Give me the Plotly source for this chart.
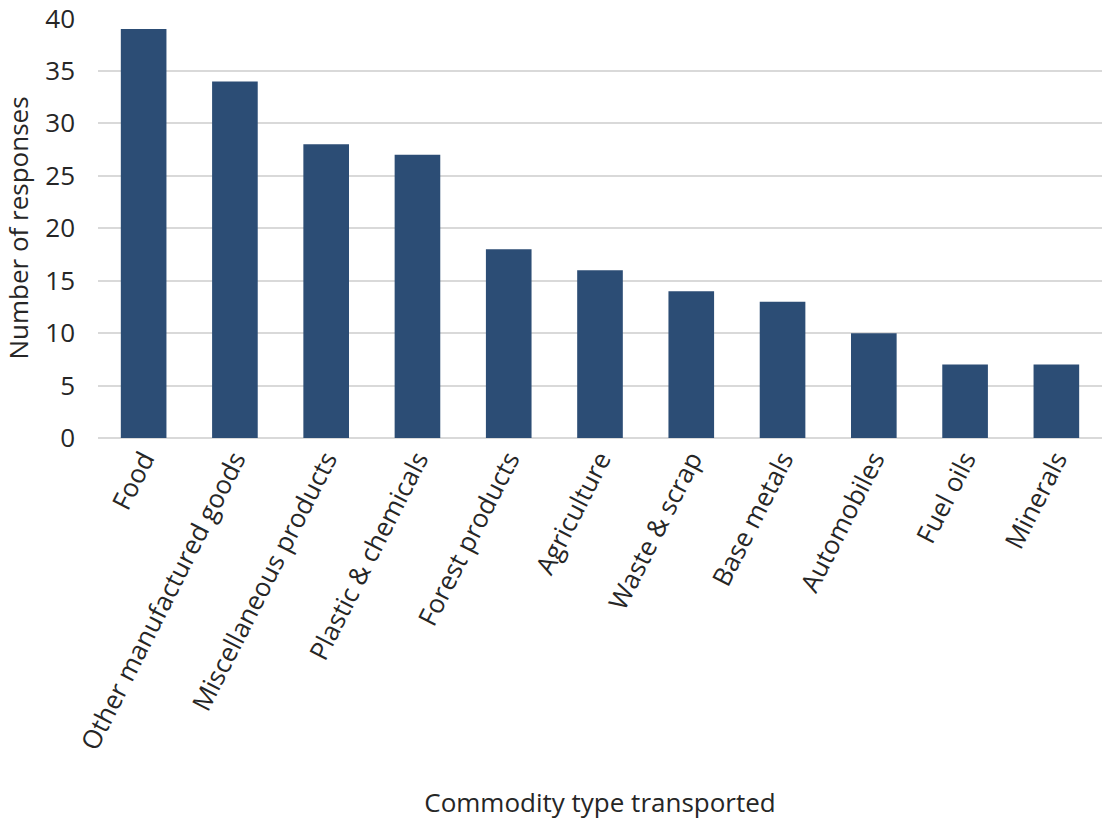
import plotly.graph_objects as go

categories = [
    "Food", "Other manufactured goods", "Miscellaneous products",
    "Plastic & chemicals", "Forest products", "Agriculture",
    "Waste & scrap", "Base metals", "Automobiles", "Fuel oils", "Minerals",
]
responses = [39, 34, 28, 27, 18, 16, 14, 13, 10, 7, 7]
y_ticks = [0, 5, 10, 15, 20, 25, 30, 35, 40]

font_family = "Open Sans"
text_color = "#262626"
font_size = 26

fig = go.Figure(
    go.Bar(
        x=categories,
        y=responses,
        marker=dict(color="#2C4D75", line=dict(width=0)),
        width=0.5,
    )
)

fig.update_layout(
    width=1102,
    height=824,
    margin=dict(l=98, r=0, t=18, b=386),
    plot_bgcolor="white",
    paper_bgcolor="white",
    font=dict(family=font_family, size=font_size, color=text_color),
    showlegend=False,
    bargap=0.5,
)

fig.update_xaxes(
    tickangle=-63,
    tickfont=dict(size=font_size),
    showgrid=False,
    showline=False,
    ticks="",
    automargin=False,
    ticklabeloverflow="allow",
    title=dict(text="Commodity type transported", font=dict(size=font_size), standoff=38),
)

fig.update_yaxes(
    range=[0, 40.05],
    tickvals=y_ticks,
    tickfont=dict(size=font_size),
    showgrid=True,
    gridcolor="#D9D9D9",
    gridwidth=2,
    zeroline=True,
    zerolinecolor="#D9D9D9",
    zerolinewidth=2,
    ticks="",
    ticklabelstandoff=22,
    ticklabeloverflow="allow",
    automargin=False,
    title=dict(text="Number of responses", font=dict(size=font_size), standoff=14),
)

fig.write_html("out.html")
